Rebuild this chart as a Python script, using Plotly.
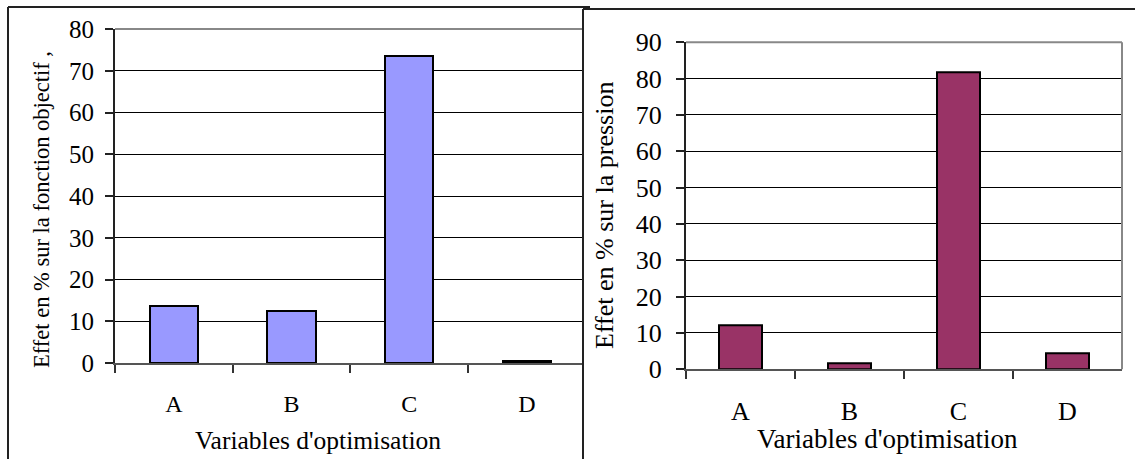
import plotly.graph_objects as go

W, H = 1135, 459

categories = ["A", "B", "C", "D"]
effet_fonction_objectif = [13.6, 12.4, 73.6, 0.4]
effet_pression = [12.0, 1.6, 81.8, 4.4]
y1_ticks = [0, 10, 20, 30, 40, 50, 60, 70, 80]
y2_ticks = [0, 10, 20, 30, 40, 50, 60, 70, 80, 90]
x_title = "Variables d'optimisation"
y1_title = "Effet en % sur la fonction objectif ,"
y2_title = "Effet en % sur la pression"

FONT = "Liberation Serif"


def px(x):
    return x / W


def py(y):
    return 1 - y / H


fig = go.Figure()
fig.add_trace(go.Bar(x=categories, y=effet_fonction_objectif, width=0.41,
                     marker=dict(color="#9999FF", line=dict(color="black", width=2)),
                     xaxis="x", yaxis="y", showlegend=False))
fig.add_trace(go.Bar(x=categories, y=effet_pression, width=0.40,
                     marker=dict(color="#993366", line=dict(color="black", width=2)),
                     xaxis="x2", yaxis="y2", showlegend=False))

# left plot: visible from x=115 to 583 (rest hidden by right panel)
cat_w1 = 117.7
x1_end = -0.5 + (583 - 115) / cat_w1


def xax(size, standoff):
    return dict(type="category", tickson="boundaries", ticks="outside", ticklen=8,
                tickwidth=1.5, tickcolor="#333", showline=True, linecolor="#555",
                linewidth=2, showgrid=False, zeroline=False, automargin=False,
                tickfont=dict(family=FONT, size=size, color="black"),
                ticklabelstandoff=standoff)


def yax(size, standoff):
    return dict(ticks="outside", ticklen=8, tickwidth=1.5, tickcolor="#222",
                showline=True, linecolor="#222", linewidth=2, showgrid=True,
                gridcolor="black", gridwidth=1, zeroline=False, automargin=False,
                tickfont=dict(family=FONT, size=size, color="black"),
                ticklabelstandoff=standoff)


fig.update_layout(
    width=W, height=H, margin=dict(l=0, r=0, t=0, b=0, autoexpand=False),
    paper_bgcolor="white", plot_bgcolor="white", bargap=0,
    xaxis=dict(domain=[px(115), px(583)], range=[-0.5, x1_end], anchor="y", **xax(24, 18)),
    yaxis=dict(domain=[py(363), py(29)], range=[0, 80], tickvals=y1_ticks, anchor="x", **yax(25, 6)),
    xaxis2=dict(domain=[px(686), px(1122)], range=[-0.5, 3.5], anchor="y2", **xax(26, 17)),
    yaxis2=dict(domain=[py(369.3), py(42.3)], range=[0, 90], tickvals=y2_ticks, anchor="x2", **yax(26, 9)),
)

shapes = [
    # left panel outer frame
    dict(type="line", xref="paper", yref="paper", x0=px(8), x1=px(8), y0=py(470), y1=py(7),
         line=dict(color="#222", width=2)),
    dict(type="line", xref="paper", yref="paper", x0=px(8), x1=px(590), y0=py(7), y1=py(7),
         line=dict(color="#222", width=2)),
    # left plot area top border
    dict(type="line", xref="paper", yref="paper", x0=px(115), x1=px(583), y0=py(29), y1=py(29),
         line=dict(color="#888", width=2)),
    # right panel outer frame
    dict(type="line", xref="paper", yref="paper", x0=px(583), x1=px(583), y0=py(470), y1=py(9),
         line=dict(color="#222", width=2)),
    dict(type="line", xref="paper", yref="paper", x0=px(583), x1=px(1140), y0=py(9), y1=py(9),
         line=dict(color="#222", width=2)),
    # right plot area top and right borders
    dict(type="line", xref="paper", yref="paper", x0=px(686), x1=px(1122), y0=py(42.3), y1=py(42.3),
         line=dict(color="#888", width=2)),
    dict(type="line", xref="paper", yref="paper", x0=px(1122), x1=px(1122), y0=py(369.3), y1=py(42.3),
         line=dict(color="#888", width=2)),
]
fig.update_layout(shapes=shapes)

fig.update_layout(annotations=[
    dict(text=x_title, xref="paper", yref="paper", x=px(318), y=py(440), showarrow=False,
         xanchor="center", yanchor="middle", font=dict(family=FONT, size=25.5, color="black")),
    dict(text=x_title, xref="paper", yref="paper", x=px(887), y=py(439), showarrow=False,
         xanchor="center", yanchor="middle", font=dict(family=FONT, size=27, color="black")),
    dict(text=y1_title, xref="paper", yref="paper", x=px(42), y=py(210), showarrow=False,
         textangle=-90, xanchor="center", yanchor="middle", font=dict(family=FONT, size=22.5, color="black")),
    dict(text=y2_title, xref="paper", yref="paper", x=px(604), y=py(216), showarrow=False,
         textangle=-90, xanchor="center", yanchor="middle", font=dict(family=FONT, size=26, color="black")),
])

fig.write_html("out.html", config={"displayModeBar": False},
               post_script="document.body.style.margin='0';document.body.style.overflow='hidden';")
